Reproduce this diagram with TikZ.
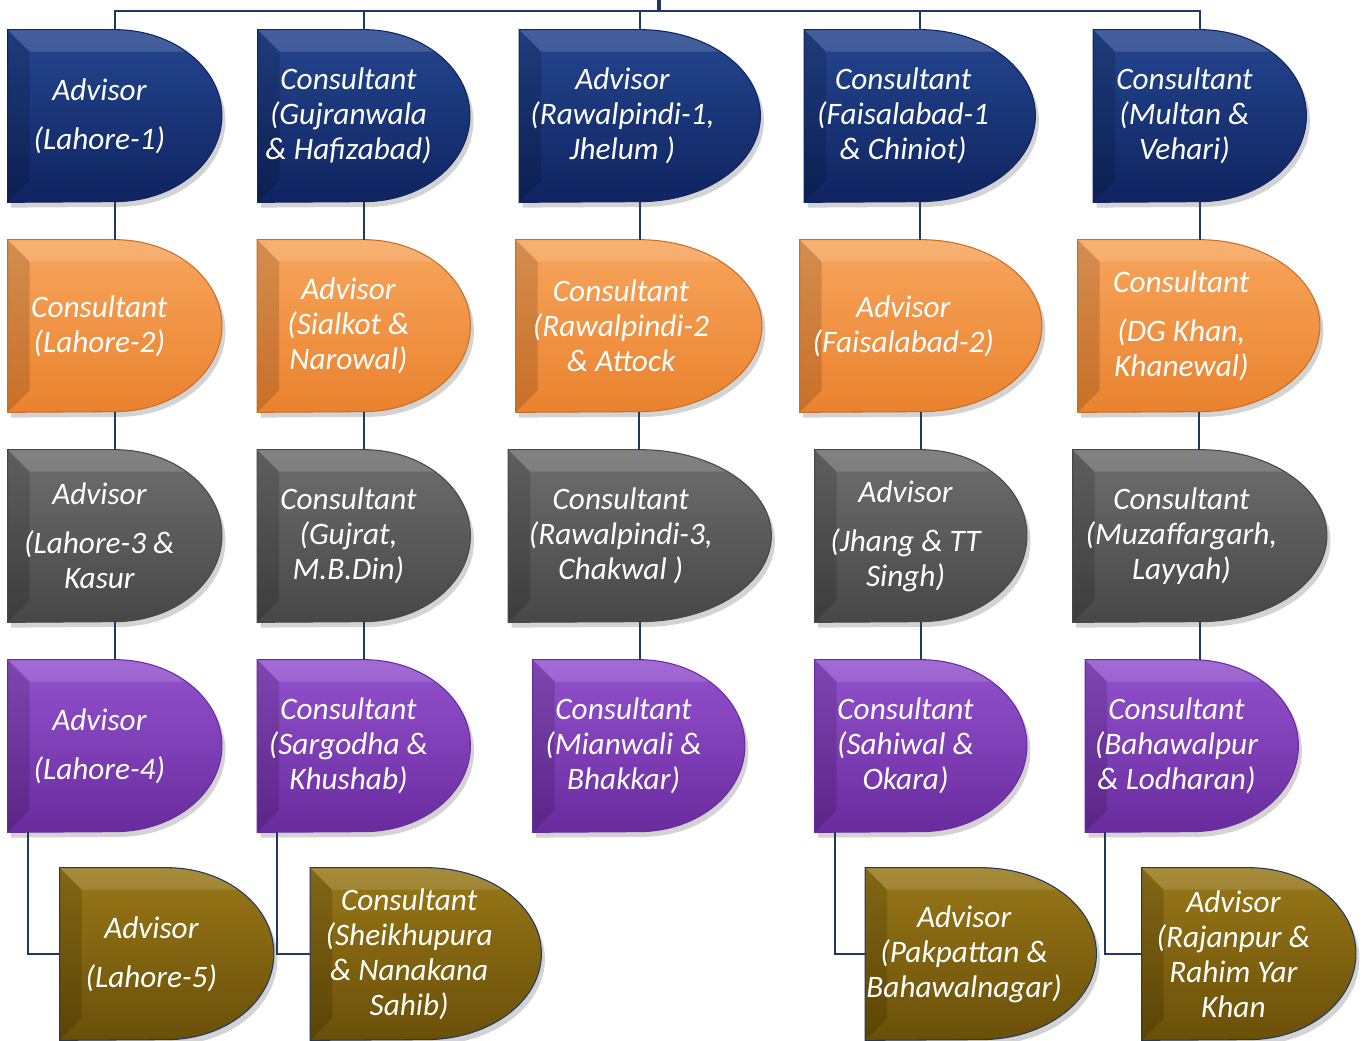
\documentclass[tikz,border=0pt]{standalone}
\usepackage{fontspec}
\setmainfont{Carlito}
\usepackage{tikz}
\usetikzlibrary{calc,shadows}

\definecolor{linkblue}{HTML}{1F3864}
\definecolor{navytop}{HTML}{24468F}
\definecolor{navybot}{HTML}{0F2460}
\definecolor{orangetop}{HTML}{F7A55C}
\definecolor{orangebot}{HTML}{EA822E}
\definecolor{graytop}{HTML}{6E6E6E}
\definecolor{graybot}{HTML}{474747}
\definecolor{purpletop}{HTML}{9352CE}
\definecolor{purplebot}{HTML}{6A2B9E}
\definecolor{olivetop}{HTML}{987818}
\definecolor{olivebot}{HTML}{6A4F08}

\tikzset{
  link/.style={draw=linkblue, line width=1.2pt},
  boxtext/.style={text=white, align=center, inner sep=0pt,
    font=\fontsize{17.8}{19.9}\selectfont\itshape},
  navybox/.style={top color=navytop, bottom color=navybot, draw=navybot},
  orangebox/.style={top color=orangetop, bottom color=orangebot, draw=orangebot!85!black},
  graybox/.style={top color=graytop, bottom color=graybot, draw=graybot},
  purplebox/.style={top color=purpletop, bottom color=purplebot, draw=purplebot},
  olivebox/.style={top color=olivetop, bottom color=olivebot, draw=linkblue},
}

% D shaped box: name, centre x, centre y, width, colour, text
\newcommand{\dbox}[6]{%
  \node[minimum width=#4*0.02cm, minimum height=3.44cm, inner sep=0pt] (#1) at (#2,#3) {};
  \path[#5, line width=0.6pt,
    drop shadow={opacity=0.35, shadow xshift=2pt, shadow yshift=-3pt},
    path picture={
      \fill[white, opacity=0.14] (#1.north west) -- (#1.north east) -- ++(0,-22)
        -- ($(#1.north west)+(22,-22)$) -- cycle;
      \fill[black, opacity=0.14] (#1.north west) -- ($(#1.north west)+(22,-22)$)
        -- ($(#1.south west)+(22,22)$) -- (#1.south west) -- cycle;
    }]
    (#1.north west) -- (#1.north)
    arc[start angle=90, end angle=-90, x radius={#4*0.01cm}, y radius=1.72cm]
    -- (#1.south west) -- cycle;
  \node[boxtext] (#1-text) at ($(#1.center)+(-0.073*#4,0)$) {#6};
}

\begin{document}
\begin{tikzpicture}[x=0.02cm, y=0.02cm]

\useasboundingbox (0,0) rectangle (1370,-1041);

% Drawing the first row
\dbox{a1}{115}{-116}{214}{navybox}{Advisor\\[0.28cm](Lahore-1)}
\dbox{a2}{364}{-116}{212}{navybox}{Consultant\\(Gujranwala\\\& Hafizabad)}
\dbox{a3}{640}{-116}{241}{navybox}{Advisor\\(Rawalpindi-1,\\Jhelum )}
\dbox{a4}{920}{-116}{231}{navybox}{Consultant\\(Faisalabad-1\\\& Chiniot)}
\dbox{a5}{1200}{-116}{213}{navybox}{Consultant\\(Multan \&\\Vehari)}

% Drawing the second row
\dbox{b1}{115}{-326}{214}{orangebox}{Consultant\\(Lahore-2)}
\dbox{b2}{364}{-326}{213}{orangebox}{Advisor\\(Sialkot \&\\Narowal)}
\dbox{b3}{639}{-326}{246}{orangebox}{Consultant\\(Rawalpindi-2\\\& Attock}
\dbox{b4}{921}{-326}{242}{orangebox}{Advisor\\(Faisalabad-2)}
\dbox{b5}{1199}{-326}{242}{orangebox}{Consultant\\[0.28cm](DG Khan,\\Khanewal)}

% Drawing the third row
\dbox{c1}{115}{-536}{214}{graybox}{Advisor\\[0.28cm](Lahore-3 \&\\Kasur}
\dbox{c2}{364}{-536}{213}{graybox}{Consultant\\(Gujrat,\\M.B.Din)}
\dbox{c3}{640}{-536}{263}{graybox}{Consultant\\(Rawalpindi-3,\\Chakwal )}
\dbox{c4}{921}{-536}{212}{graybox}{Advisor\\[0.28cm](Jhang \& TT\\Singh)}
\dbox{c5}{1200}{-536}{254}{graybox}{Consultant\\(Muzaffargarh,\\Layyah)}

% Drawing the fourth row
\dbox{d1}{115}{-746}{214}{purplebox}{Advisor\\[0.28cm](Lahore-4)}
\dbox{d2}{364}{-746}{213}{purplebox}{Consultant\\(Sargodha \&\\Khushab)}
\dbox{d3}{639}{-746}{212}{purplebox}{Consultant\\(Mianwali \&\\Bhakkar)}
\dbox{d4}{921}{-746}{212}{purplebox}{Consultant\\(Sahiwal \&\\Okara)}
\dbox{d5}{1192}{-746}{213}{purplebox}{Consultant\\(Bahawalpur\\\& Lodharan)}

% Drawing the fifth row
\dbox{e1}{167}{-954}{214}{olivebox}{Advisor\\[0.28cm](Lahore-5)}
\dbox{e2}{426}{-954}{231}{olivebox}{Consultant\\(Sheikhupura\\\& Nanakana\\Sahib)}
\dbox{e4}{981}{-954}{231}{olivebox}{Advisor\\(Pakpattan \&\\Bahawalnagar)}
\dbox{e5}{1249}{-954}{214}{olivebox}{Advisor\\(Rajanpur \&\\Rahim Yar\\Khan}

% Top line
\coordinate (root) at (659,0);
\coordinate (hub) at (659,-11);
\draw[link, line width=2pt] (root) -- (hub);
\draw[link] (a1.north) |- (hub) -| (a5.north);
\draw[link] (a2.north) -- (a2.north |- hub);
\draw[link] (a3.north) -- (a3.north |- hub);
\draw[link] (a4.north) -- (a4.north |- hub);

% Connecting the rows
\draw[link] (a1.south) -- (a1.south |- b1.north);
\draw[link] (a2.south) -- (a2.south |- b2.north);
\draw[link] (a3.south) -- (a3.south |- b3.north);
\draw[link] (a4.south) -- (a4.south |- b4.north);
\draw[link] (a5.south) -- (a5.south |- b5.north);
\draw[link] (b1.south) -- (b1.south |- c1.north);
\draw[link] (b2.south) -- (b2.south |- c2.north);
\draw[link] (b3.south) -- (b3.south |- c3.north);
\draw[link] (b4.south) -- (b4.south |- c4.north);
\draw[link] (b5.south) -- (b5.south |- c5.north);
\draw[link] (c1.south) -- (c1.south |- d1.north);
\draw[link] (c2.south) -- (c2.south |- d2.north);
\draw[link] (c3.south) -- (c3.south |- d3.north);
\draw[link] (c4.south) -- (c4.south |- d4.north);
\draw[link] (c5.south) -- (c5.south |- d5.north);

% Elbows to the last row
\draw[link] ([xshift=0.4cm]d1.south west) |- (e1.west);
\draw[link] ([xshift=0.4cm]d2.south west) |- (e2.west);
\draw[link] ([xshift=0.4cm]d4.south west) |- (e4.west);
\draw[link] ([xshift=0.4cm]d5.south west) |- (e5.west);

\end{tikzpicture}
\end{document}
